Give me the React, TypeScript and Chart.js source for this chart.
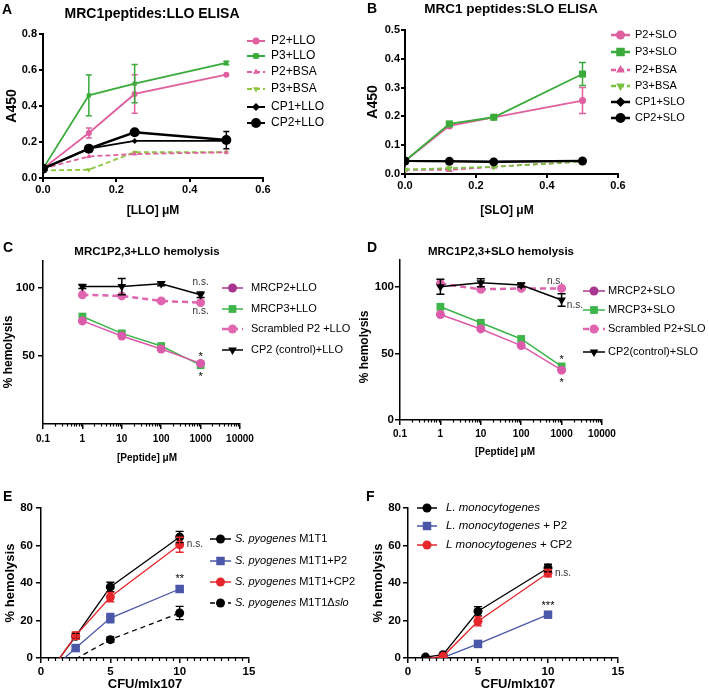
import React, { useEffect, useRef } from 'react';
import { Chart, registerables } from 'chart.js';

Chart.register(...registerables);

const FONT = '"Liberation Sans", Arial, Helvetica, sans-serif';

// ---------- Panel A data ----------
const A_X = [0, 0.125, 0.25, 0.5];
const A_P2_LLO = [0.052, 0.25, 0.467, 0.574];
const A_P2_LLO_ERR = [0, 0.028, 0.107, 0];
const A_P3_LLO = [0.052, 0.459, 0.524, 0.639];
const A_P3_LLO_ERR = [0, 0.113, 0.106, 0.01];
const A_P2_BSA = [0.052, 0.12, 0.133, 0.143];
const A_P3_BSA = [0.042, 0.046, 0.143, 0.143];
const A_CP1_LLO = [0.052, 0.163, 0.206, 0.206];
const A_CP2_LLO = [0.052, 0.163, 0.254, 0.211];
const A_CP2_LLO_ERR = [0, 0, 0, 0.048];
const A_XTICKS = [0, 0.2, 0.4, 0.6];
const A_YTICKS = [0, 0.2, 0.4, 0.6, 0.8];

// ---------- Panel B data ----------
const B_X = [0, 0.125, 0.25, 0.5];
const B_P2_SLO = [0.045, 0.167, 0.197, 0.255];
const B_P2_SLO_ERR = [0, 0, 0, 0.045];
const B_P3_SLO = [0.045, 0.174, 0.197, 0.347];
const B_P3_SLO_ERR = [0, 0.006, 0.003, 0.04];
const B_P2_BSA = [0.015, 0.014, 0.025, 0.043];
const B_P3_BSA = [0.015, 0.02, 0.025, 0.043];
const B_CP1_SLO = [0.045, 0.044, 0.043, 0.046];
const B_CP2_SLO = [0.045, 0.044, 0.042, 0.045];
const B_XTICKS = [0, 0.2, 0.4, 0.6];
const B_YTICKS = [0, 0.1, 0.2, 0.3, 0.4, 0.5];

// ---------- Panel C data ----------
const C_X = [1, 10, 100, 1000];
const C_MRCP2 = [75.9, 64.8, 55.2, 44.6];
const C_MRCP3 = [79.1, 66.7, 57.4, 43.3];
const C_SCR = [95.1, 94.3, 90.6, 89.4];
const C_CP2 = [101.2, 101.2, 103.2, 95.1];
const C_CP2_ERR = [1.5, 6, 1.5, 2];
const C_XTICKS = [0.1, 1, 10, 100, 1000, 10000];
const C_YTICKS = [50, 100];

// ---------- Panel D data ----------
const D_X = [1, 10, 100, 1000];
const D_MRCP2 = [79.1, 68.3, 55.8, 37.4];
const D_MRCP3 = [84.9, 72.9, 60.8, 40.2];
const D_SCR = [102.3, 98, 98.7, 98.7];
const D_CP2 = [100, 103, 101.3, 90];
const D_CP2_ERR = [5.6, 3, 1.5, 4.6];
const D_XTICKS = [0.1, 1, 10, 100, 1000, 10000];
const D_YTICKS = [0, 50, 100];

// ---------- Panel E data ----------
const E_X = [1.25, 2.5, 5, 10];
const E_M1T1 = [-1, 11.6, 37.9, 64.5];
const E_M1T1_ERR = [0, 1.5, 2.5, 3];
const E_P2 = [-3, 5.3, 21.3, 36.8];
const E_P2_ERR = [0, 1, 2.5, 1.5];
const E_CP2 = [-1, 11.9, 32.5, 60.4];
const E_CP2_ERR = [0, 2, 2.5, 4];
const E_DSLO = [null, -0.5, 9.8, 24];
const E_DSLO_ERR = [0, 0, 1.5, 3.5];
const E_XTICKS = [0, 5, 10, 15];
const E_YTICKS = [0, 20, 40, 60, 80];

// ---------- Panel F data ----------
const F_X = [1.25, 2.5, 5, 10];
const F_LM = [0.5, 1.8, 24.9, 48];
const F_LM_ERR = [0, 0, 2.5, 2];
const F_P2 = [null, 0.2, 7.5, 23.1];
const F_CP2 = [-0.3, 0.9, 19.6, 45.3];
const F_CP2_ERR = [0, 0, 2.5, 2];
const F_XTICKS = [0, 5, 10, 15];
const F_YTICKS = [0, 20, 40, 60, 80];

// ---------- colours ----------
const PINK = '#e0609f';
const GREEN = '#3aab3a';
const LIGHTGREEN = '#8cc63f';
const PURPLE = '#a8368f';
const MAGENTA = '#dc5aaa';
const BLUE = '#4b57a8';
const RED = '#e6262b';
const BLACK = '#000000';

const LOG_MINOR: number[] = [];
for (let e = -1; e <= 3; e++) for (let k = 2; k <= 9; k++) LOG_MINOR.push(k * Math.pow(10, e));
const LIN_MINOR: number[] = [];
for (let i = 1; i < 30; i++) if (i % 10 !== 0) LIN_MINOR.push(i * 0.5);

interface Style {
  color: string; lw: number; dash?: number[]; ps: string; r: number; rot?: number;
  lr?: number; lcolor?: string; order?: number; clip?: any;
}

function series(label: string, xs: number[], ys: (number | null)[], st: Style, errs?: number[]) {
  const r = st.r;
  return {
    label,
    data: xs.map((x, i) => ({ x, y: ys[i] })),
    borderColor: st.color,
    backgroundColor: st.color,
    borderWidth: st.lw,
    borderDash: st.dash || [],
    pointStyle: st.ps,
    pointRotation: st.rot || 0,
    pointRadius: (c: any) => (c && c.parsed && c.parsed.y < 0 ? 0 : r),
    pointHoverRadius: r,
    pointBackgroundColor: st.color,
    pointBorderColor: st.color,
    pointBorderWidth: 0,
    tension: 0,
    fill: false,
    spanGaps: false,
    order: st.order ?? 0,
    clip: st.clip,
    errs,
    st,
  };
}

function drawMarker(ctx: CanvasRenderingContext2D, ps: string, r: number, rot: number, x: number, y: number) {
  ctx.beginPath();
  let a = (rot * Math.PI) / 180;
  if (ps === 'circle') {
    ctx.arc(x, y, r, 0, Math.PI * 2);
  } else if (ps === 'rect') {
    const s = Math.SQRT1_2 * r;
    ctx.rect(x - s, y - s, 2 * s, 2 * s);
  } else if (ps === 'rectRot') {
    ctx.moveTo(x - r, y); ctx.lineTo(x, y - r); ctx.lineTo(x + r, y); ctx.lineTo(x, y + r); ctx.closePath();
  } else if (ps === 'triangle') {
    ctx.moveTo(x + Math.sin(a) * r, y - Math.cos(a) * r);
    a += (2 * Math.PI) / 3;
    ctx.lineTo(x + Math.sin(a) * r, y - Math.cos(a) * r);
    a += (2 * Math.PI) / 3;
    ctx.lineTo(x + Math.sin(a) * r, y - Math.cos(a) * r);
    ctx.closePath();
  }
  ctx.fill();
}

type Seg = { t: string; i: boolean };
function segs(label: string, ital: string[]): Seg[] {
  let out: Seg[] = [{ t: label, i: false }];
  for (const w of ital) {
    const next: Seg[] = [];
    for (const s of out) {
      if (s.i) { next.push(s); continue; }
      const parts = s.t.split(w);
      parts.forEach((p, k) => {
        if (p) next.push({ t: p, i: false });
        if (k < parts.length - 1) next.push({ t: w, i: true });
      });
    }
    out = next;
  }
  return out;
}

interface ScaleSpec {
  type: 'linear' | 'logarithmic'; min: number; max: number; ticks: number[];
  fmt: (v: number) => string; fs: number; tl: number; pad: number;
}
interface TextSpec { t: string; x: number; y: number; f: string; a?: CanvasTextAlign; r?: number; c?: string }
interface NoteSpec { t: string; x: number; y: number; a?: CanvasTextAlign; fs?: number }
interface PanelSpec {
  box: [number, number, number, number];
  area: [number, number, number, number];
  x: ScaleSpec; y: ScaleSpec;
  datasets: any[];
  texts: TextSpec[];
  legend: { x0: number; x1: number; tx: number; ys: number[]; fs: number; lw?: number; ital?: string[] };
  notes: NoteSpec[];
  minor?: number[]; minorLen?: number;
  cap: number; errLw: number; axisLw: number;
}

function buildScale(s: ScaleSpec, isX: boolean, sizePx: number, axisLw: number) {
  return {
    type: s.type,
    min: s.min,
    max: s.max,
    afterBuildTicks: (ax: any) => { ax.ticks = s.ticks.map((v) => ({ value: v })); },
    afterFit: (ax: any) => { if (isX) ax.height = sizePx; else ax.width = sizePx; },
    ticks: {
      autoSkip: false, maxRotation: 0, minRotation: 0, padding: s.pad, color: '#000',
      font: { family: FONT, size: s.fs, weight: 'bold' },
      callback: (v: any) => s.fmt(Number(v)),
    },
    grid: {
      drawOnChartArea: false, drawTicks: true, tickLength: s.tl, tickColor: '#000',
      tickWidth: axisLw, color: '#000', lineWidth: axisLw,
    },
    border: { display: true, color: '#000', width: axisLw },
  };
}

function makeDecor(spec: PanelSpec) {
  return {
    id: 'decor',
    afterDatasetsDraw(chart: any) {
      const ctx: CanvasRenderingContext2D = chart.ctx;
      const ys = chart.scales.y;
      chart.data.datasets.forEach((d: any, i: number) => {
        if (!d.errs) return;
        const meta = chart.getDatasetMeta(i);
        d.errs.forEach((e: number, j: number) => {
          const pt = d.data[j];
          if (!e || pt.y == null) return;
          const el = meta.data[j];
          const x = el.x;
          const y1 = ys.getPixelForValue(pt.y + e);
          const y2 = ys.getPixelForValue(pt.y - e);
          ctx.save();
          ctx.strokeStyle = d.borderColor;
          ctx.lineWidth = spec.errLw;
          ctx.setLineDash([]);
          ctx.beginPath();
          ctx.moveTo(x, y1); ctx.lineTo(x, y2);
          ctx.moveTo(x - spec.cap, y1); ctx.lineTo(x + spec.cap, y1);
          ctx.moveTo(x - spec.cap, y2); ctx.lineTo(x + spec.cap, y2);
          ctx.stroke();
          ctx.restore();
        });
      });
    },
    afterDraw(chart: any) {
      const ctx: CanvasRenderingContext2D = chart.ctx;
      const bx = spec.box[0];
      const by = spec.box[1];
      const xs = chart.scales.x;
      const ys = chart.scales.y;
      const area = chart.chartArea;
      if (spec.minor) {
        ctx.save();
        ctx.strokeStyle = '#000';
        ctx.lineWidth = 1.2;
        ctx.beginPath();
        for (const v of spec.minor) {
          const px = Math.round(xs.getPixelForValue(v)) + 0.5;
          ctx.moveTo(px, area.bottom);
          ctx.lineTo(px, area.bottom + (spec.minorLen || 3));
        }
        ctx.stroke();
        ctx.restore();
      }
      for (const t of spec.texts) {
        ctx.save();
        ctx.font = `${t.f} ${FONT}`;
        ctx.fillStyle = t.c || '#000';
        ctx.textAlign = t.a || 'center';
        ctx.textBaseline = 'middle';
        ctx.translate(t.x - bx, t.y - by);
        if (t.r) ctx.rotate((t.r * Math.PI) / 180);
        ctx.fillText(t.t, 0, 0);
        ctx.restore();
      }
      const L = spec.legend;
      chart.data.datasets.forEach((d: any, i: number) => {
        const y = L.ys[i] - by;
        if (y == null || isNaN(y)) return;
        const st: Style = d.st;
        const col = st.lcolor || st.color;
        ctx.save();
        ctx.strokeStyle = col;
        ctx.fillStyle = col;
        ctx.lineWidth = L.lw || st.lw;
        ctx.setLineDash(st.dash || []);
        ctx.beginPath();
        ctx.moveTo(L.x0 - bx, y);
        ctx.lineTo(L.x1 - bx, y);
        ctx.stroke();
        ctx.setLineDash([]);
        drawMarker(ctx, st.ps, st.lr || st.r, st.rot || 0, (L.x0 + L.x1) / 2 - bx, y);
        ctx.fillStyle = '#000';
        ctx.textBaseline = 'middle';
        ctx.textAlign = 'left';
        let cx = L.tx - bx;
        for (const s of segs(d.label, L.ital || [])) {
          ctx.font = `${s.i ? 'italic ' : ''}${L.fs}px ${FONT}`;
          ctx.fillText(s.t, cx, y);
          cx += ctx.measureText(s.t).width;
        }
        ctx.restore();
      });
      for (const n of spec.notes) {
        const fs = n.fs || 10;
        const px = xs.getPixelForValue(n.x);
        const py = ys.getPixelForValue(n.y);
        const star = /^\*+$/.test(n.t);
        ctx.save();
        ctx.font = `${fs + (star ? 1 : 0)}px ${FONT}`;
        ctx.fillStyle = star ? '#000' : '#333';
        ctx.textAlign = n.a || 'center';
        ctx.textBaseline = 'alphabetic';
        ctx.fillText(n.t, px, py + (star ? 0.6 : 0.27) * fs);
        ctx.restore();
      }
    },
  };
}

const f1 = (v: number) => v.toFixed(1);
const fs0 = (v: number) => String(v);

const PANELS: PanelSpec[] = [
  {
    box: [0, 0, 350, 222], area: [43, 34, 263, 178],
    x: { type: 'linear', min: 0, max: 0.6, ticks: A_XTICKS, fmt: f1, fs: 11, tl: 4, pad: 1 },
    y: { type: 'linear', min: 0, max: 0.8, ticks: A_YTICKS, fmt: f1, fs: 11, tl: 4, pad: 2 },
    datasets: [
      series('P2+LLO', A_X, A_P2_LLO, { color: PINK, lw: 1.8, ps: 'circle', r: 3, lr: 3.5, order: 3 }, A_P2_LLO_ERR),
      series('P3+LLO', A_X, A_P3_LLO, { color: GREEN, lw: 1.8, ps: 'rect', r: 3, lr: 4, order: 4 }, A_P3_LLO_ERR),
      series('P2+BSA', A_X, A_P2_BSA, { color: PINK, lw: 1.8, dash: [5, 3], ps: 'triangle', r: 3, lr: 3.5, order: 5 }),
      series('P3+BSA', A_X, A_P3_BSA, { color: LIGHTGREEN, lw: 1.8, dash: [5, 3], ps: 'triangle', rot: 180, r: 3, lr: 3.5, order: 6 }),
      series('CP1+LLO', A_X, A_CP1_LLO, { color: BLACK, lw: 1.8, ps: 'rectRot', r: 3, lr: 4, order: 2 }),
      series('CP2+LLO', A_X, A_CP2_LLO, { color: BLACK, lw: 2.5, ps: 'circle', r: 5, lr: 5, order: 1 }, A_CP2_LLO_ERR),
    ],
    texts: [
      { t: 'A', x: 2, y: 10, f: 'bold 14px', a: 'left' },
      { t: 'MRC1peptides:LLO ELISA', x: 152, y: 14, f: 'bold 14px' },
      { t: '[LLO] μM', x: 153, y: 211, f: 'bold 12px' },
      { t: 'A450', x: 12, y: 106, f: 'bold 14px', r: -90 },
    ],
    legend: { x0: 247, x1: 265, tx: 271, ys: [41, 56, 72, 89, 107, 123], fs: 12, lw: 2 },
    notes: [],
    cap: 3, errLw: 1.5, axisLw: 2,
  },
  {
    box: [350, 0, 359, 222], area: [405, 30, 618, 174],
    x: { type: 'linear', min: 0, max: 0.6, ticks: B_XTICKS, fmt: f1, fs: 11, tl: 4, pad: 1 },
    y: { type: 'linear', min: 0, max: 0.5, ticks: B_YTICKS, fmt: f1, fs: 11, tl: 4, pad: 1 },
    datasets: [
      series('P2+SLO', B_X, B_P2_SLO, { color: PINK, lw: 1.8, ps: 'circle', r: 3.5, lr: 4.5, order: 3 }, B_P2_SLO_ERR),
      series('P3+SLO', B_X, B_P3_SLO, { color: GREEN, lw: 1.8, ps: 'rect', r: 5, lr: 6, order: 2 }, B_P3_SLO_ERR),
      series('P2+BSA', B_X, B_P2_BSA, { color: PINK, lw: 1.8, dash: [5, 3], ps: 'triangle', r: 4, lr: 5, order: 5 }),
      series('P3+BSA', B_X, B_P3_BSA, { color: '#7cc142', lw: 1.8, dash: [5, 3], ps: 'triangle', rot: 180, r: 4, lr: 5, order: 4 }),
      series('CP1+SLO', B_X, B_CP1_SLO, { color: BLACK, lw: 2, ps: 'rectRot', r: 4, lr: 5, order: 1 }),
      series('CP2+SLO', B_X, B_CP2_SLO, { color: BLACK, lw: 2, ps: 'circle', r: 4.5, lr: 5, order: 0 }),
    ],
    texts: [
      { t: 'B', x: 367, y: 9, f: 'bold 14px', a: 'left' },
      { t: 'MRC1 peptides:SLO ELISA', x: 511, y: 9, f: 'bold 13.5px' },
      { t: '[SLO] μM', x: 507, y: 211, f: 'bold 12px' },
      { t: 'A450', x: 373, y: 102, f: 'bold 14px', r: -90 },
    ],
    legend: { x0: 611, x1: 630, tx: 635, ys: [35, 52, 70, 86, 102, 118], fs: 11, lw: 2.5 },
    notes: [],
    cap: 3.5, errLw: 1.5, axisLw: 2,
  },
  {
    box: [0, 222, 366, 248], area: [43, 261, 240, 424],
    x: { type: 'logarithmic', min: 0.1, max: 10000, ticks: C_XTICKS, fmt: fs0, fs: 10, tl: 5, pad: 4 },
    y: { type: 'linear', min: 0, max: 120, ticks: C_YTICKS, fmt: fs0, fs: 11.5, tl: 5, pad: 3 },
    datasets: [
      series('MRCP2+LLO', C_X, C_MRCP2, { color: MAGENTA, lcolor: PURPLE, lw: 1.5, ps: 'circle', r: 4.5, order: 1 }),
      series('MRCP3+LLO', C_X, C_MRCP3, { color: '#3db54a', lw: 1.5, ps: 'rect', r: 5.5, order: 2 }),
      series('Scrambled P2 +LLO', C_X, C_SCR, { color: '#e066b0', lw: 2.5, dash: [6, 4], ps: 'circle', r: 4.5, order: 3 }),
      series('CP2 (control)+LLO', C_X, C_CP2, { color: BLACK, lw: 1.5, ps: 'triangle', rot: 180, r: 5, order: 0 }, C_CP2_ERR),
    ],
    texts: [
      { t: 'C', x: 3, y: 248, f: 'bold 14px', a: 'left' },
      { t: 'MRC1P2,3+LLO hemolysis', x: 147, y: 252, f: 'bold 11.5px' },
      { t: '[Peptide] μM', x: 147, y: 458, f: 'bold 10px' },
      { t: '% hemolysis', x: 9, y: 352, f: 'bold 12px', r: -90 },
    ],
    legend: { x0: 222, x1: 243, tx: 251, ys: [288, 309, 329, 350], fs: 11 },
    notes: [
      { t: 'n.s.', x: 1000, y: 104.4 },
      { t: 'n.s.', x: 1000, y: 83 },
      { t: '*', x: 1000, y: 51.5 },
      { t: '*', x: 1000, y: 36.5 },
    ],
    minor: LOG_MINOR, minorLen: 2.5,
    cap: 4, errLw: 1.5, axisLw: 1.5,
  },
  {
    box: [350, 222, 359, 248], area: [400, 260, 602, 420],
    x: { type: 'logarithmic', min: 0.1, max: 10000, ticks: D_XTICKS, fmt: fs0, fs: 10, tl: 5, pad: 3 },
    y: { type: 'linear', min: 0, max: 120, ticks: D_YTICKS, fmt: fs0, fs: 11.5, tl: 5, pad: 1 },
    datasets: [
      series('MRCP2+SLO', D_X, D_MRCP2, { color: MAGENTA, lcolor: PURPLE, lw: 1.5, ps: 'circle', r: 4.5, order: 1 }),
      series('MRCP3+SLO', D_X, D_MRCP3, { color: '#3db54a', lw: 1.5, ps: 'rect', r: 5.5, order: 2 }),
      series('Scrambled P2+SLO', D_X, D_SCR, { color: '#e066b0', lw: 2.5, dash: [6, 4], ps: 'circle', r: 4.5, order: 3 }),
      series('CP2(control)+SLO', D_X, D_CP2, { color: BLACK, lw: 1.5, ps: 'triangle', rot: 180, r: 5, order: 0 }, D_CP2_ERR),
    ],
    texts: [
      { t: 'D', x: 367, y: 248, f: 'bold 14px', a: 'left' },
      { t: 'MRC1P2,3+SLO hemolysis', x: 501, y: 252, f: 'bold 11.5px' },
      { t: '[Peptide] μM', x: 505, y: 452, f: 'bold 10px' },
      { t: '% hemolysis', x: 365, y: 347, f: 'bold 12px', r: -90 },
    ],
    legend: { x0: 583, x1: 605, tx: 608, ys: [291, 310, 329, 352], fs: 11 },
    notes: [
      { t: 'n.s.', x: 690, y: 104.3 },
      { t: 'n.s.', x: 1350, y: 86.3, a: 'left' },
      { t: '*', x: 1000, y: 47.3 },
      { t: '*', x: 1000, y: 30 },
    ],
    minor: LOG_MINOR, minorLen: 2.5,
    cap: 4, errLw: 1.5, axisLw: 1.5,
  },
  {
    box: [0, 470, 366, 228], area: [41, 508, 249, 658],
    x: { type: 'linear', min: 0, max: 15, ticks: E_XTICKS, fmt: fs0, fs: 11.5, tl: 5, pad: 2 },
    y: { type: 'linear', min: 0, max: 80, ticks: E_YTICKS, fmt: fs0, fs: 11.5, tl: 5, pad: 3 },
    datasets: [
      series('S. pyogenes M1T1', E_X, E_M1T1, { color: BLACK, lw: 1.3, ps: 'circle', r: 4.5, order: 2, clip: { left: 20, top: 20, right: 20, bottom: 0 } }, E_M1T1_ERR),
      series('S. pyogenes M1T1+P2', E_X, E_P2, { color: BLUE, lw: 1.3, ps: 'rect', r: 6, order: 3, clip: { left: 20, top: 20, right: 20, bottom: 0 } }, E_P2_ERR),
      series('S. pyogenes M1T1+CP2', E_X, E_CP2, { color: RED, lw: 1.3, ps: 'circle', r: 4.5, order: 1, clip: { left: 20, top: 20, right: 20, bottom: 0 } }, E_CP2_ERR),
      series('S. pyogenes M1T1Δslo', E_X, E_DSLO, { color: BLACK, lw: 1.3, dash: [5, 4], ps: 'circle', r: 4.5, order: 4, clip: { left: 20, top: 20, right: 20, bottom: 0 } }, E_DSLO_ERR),
    ],
    texts: [
      { t: 'E', x: 3, y: 497, f: 'bold 14px', a: 'left' },
      { t: 'CFU/mlx107', x: 145, y: 684, f: 'bold 13px' },
      { t: '% hemolysis', x: 10, y: 583, f: 'bold 13px', r: -90 },
    ],
    legend: { x0: 210, x1: 231, tx: 235, ys: [539, 561, 582, 603], fs: 11, lw: 1.5, ital: ['S. pyogenes', 'slo'] },
    notes: [
      { t: 'n.s.', x: 11.1, y: 60.8 },
      { t: '**', x: 10, y: 43.7 },
    ],
    minor: LIN_MINOR, minorLen: 3,
    cap: 4, errLw: 1.3, axisLw: 1.5,
  },
  {
    box: [350, 470, 359, 228], area: [408, 508, 618, 658],
    x: { type: 'linear', min: 0, max: 15, ticks: F_XTICKS, fmt: fs0, fs: 11.5, tl: 5, pad: 2 },
    y: { type: 'linear', min: 0, max: 80, ticks: F_YTICKS, fmt: fs0, fs: 11.5, tl: 5, pad: 2 },
    datasets: [
      series('L. monocytogenes', F_X, F_LM, { color: BLACK, lw: 1.3, ps: 'circle', r: 4.5, order: 2 }, F_LM_ERR),
      series('L. monocytogenes + P2', F_X, F_P2, { color: BLUE, lw: 1.3, ps: 'rect', r: 6, order: 3 }),
      series('L monocytogenes + CP2', F_X, F_CP2, { color: RED, lw: 1.3, ps: 'circle', r: 4.5, order: 1 }, F_CP2_ERR),
    ],
    texts: [
      { t: 'F', x: 366, y: 497, f: 'bold 14px', a: 'left' },
      { t: 'CFU/mlx107', x: 518, y: 684, f: 'bold 13px' },
      { t: '% hemolysis', x: 378, y: 583, f: 'bold 13px', r: -90 },
    ],
    legend: { x0: 417, x1: 437, tx: 446, ys: [508, 526, 545], fs: 11.5, lw: 1.5, ital: ['L. monocytogenes', 'L monocytogenes'] },
    notes: [
      { t: 'n.s.', x: 11.07, y: 45.3 },
      { t: '***', x: 10, y: 29.3 },
    ],
    minor: LIN_MINOR, minorLen: 3,
    cap: 4, errLw: 1.3, axisLw: 1.5,
  },
];

function Panel({ spec }: { spec: PanelSpec }) {
  const ref = useRef<HTMLCanvasElement>(null);
  useEffect(() => {
    const cv = ref.current;
    if (!cv) return;
    const [bx, by, bw, bh] = spec.box;
    const [l, t, r, b] = spec.area;
    const chart = new Chart(cv, {
      type: 'line',
      data: { datasets: spec.datasets as any },
      options: {
        responsive: false,
        animation: false,
        events: [],
        layout: { padding: { left: 0, top: t - by, right: bx + bw - r, bottom: 0 }, autoPadding: false },
        scales: {
          x: buildScale(spec.x, true, by + bh - b, spec.axisLw) as any,
          y: buildScale(spec.y, false, l - bx, spec.axisLw) as any,
        },
        plugins: { legend: { display: false }, tooltip: { enabled: false }, title: { display: false } },
      } as any,
      plugins: [makeDecor(spec) as any],
    });
    return () => chart.destroy();
  }, [spec]);
  return (
    <canvas
      ref={ref}
      width={spec.box[2]}
      height={spec.box[3]}
      style={{ position: 'absolute', left: spec.box[0], top: spec.box[1], width: spec.box[2], height: spec.box[3] }}
    />
  );
}

export default function App() {
  return (
    <div style={{ position: 'absolute', left: 0, top: 0, width: 709, height: 698, background: '#fff', overflow: 'hidden' }}>
      {PANELS.map((p, i) => (
        <Panel key={i} spec={p} />
      ))}
    </div>
  );
}
